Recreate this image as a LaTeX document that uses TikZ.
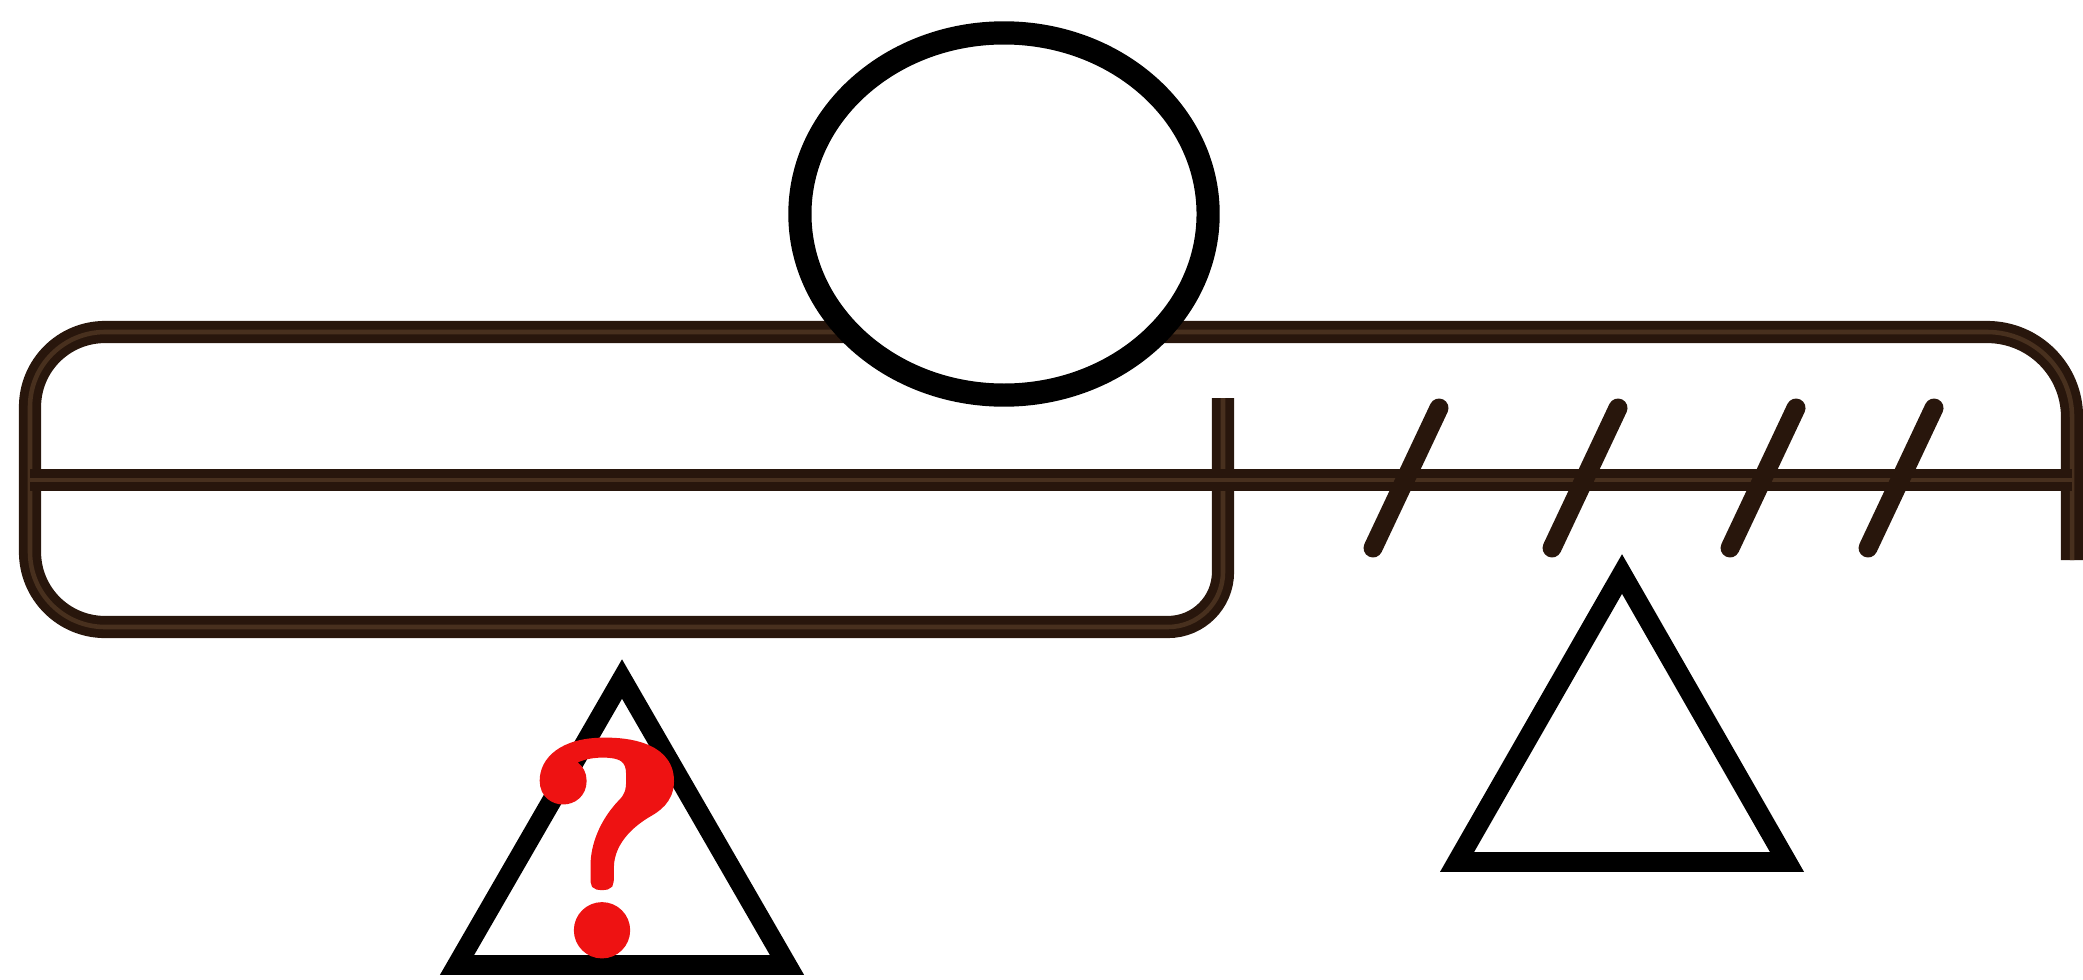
\documentclass[tikz,border=0pt]{standalone}
\usepackage{fontspec}
\newfontfamily\qfont[FakeBold=3]{lmroman10-bold.otf}
\definecolor{rodbrown}{RGB}{40,22,12}
\definecolor{rodcore}{RGB}{72,48,30}
\definecolor{qred}{RGB}{238,18,18}
\begin{document}
\begin{tikzpicture}[x=0.01cm, y=-0.01cm,
    bar/.style={draw=rodbrown, line width=2.5pt, double=rodcore, double distance=1.3pt},
    ball/.style={draw=black, line width=6.6pt, fill=white},
    wedge/.style={draw=black, line width=5.6pt, line join=miter},
    hatch/.style={draw=rodbrown, line width=5.4pt, line cap=round},
    qmark/.style={text=qred, inner sep=0pt, font=\qfont\fontsize{86}{86}\selectfont},
]
\useasboundingbox (0,0) rectangle (2083,979);

% frame and rod
\draw[bar, rounded corners=0.55cm] (1223,398) -- (1223,627) [rounded corners=0.75cm] -- (30,627) -- (30,332) [rounded corners=0.85cm] -- (2072,332) -- (2072,560);
\draw[bar] (30,480) -- (2072,480);

\draw[ball] (1004,214) ellipse [x radius=2.04cm, y radius=1.81cm];

\foreach \cx in {1406,1585,1763,1901}
    \draw[hatch] (\cx-33,548) -- (\cx+33,408);

% supports
\draw[wedge] (622,679) -- ++(-165,286) -- ++(330,0) -- cycle;
\draw[wedge] (1622,574) -- ++(-165,288) -- ++(330,0) -- cycle;

\node[qmark] (Q) at (607,848) {?};
\end{tikzpicture}
\end{document}
